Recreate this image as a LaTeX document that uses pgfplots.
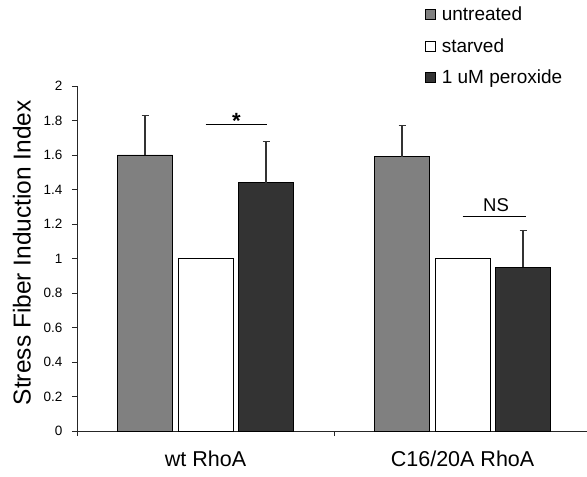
\documentclass[border=0pt]{standalone}
\usepackage{pgfplots}
\pgfplotsset{compat=1.18}
\usepackage{fontspec}
\setmainfont{Liberation Sans}
\definecolor{untr}{HTML}{808080}
\definecolor{perox}{HTML}{333333}
\begin{document}
\begin{tikzpicture}
\useasboundingbox (0,0) rectangle (587pt,477pt);
\begin{axis}[
  at={(77pt,46pt)}, anchor=south west,
  scale only axis, width=510pt, height=345pt,
  xmin=-0.5, xmax=1.484, ymin=0, ymax=2,
  clip=false,
  axis x line*=bottom, axis y line*=left,
  axis line style={-, black!85, line width=0.8pt},
  ybar=5.5pt, bar width=55pt,
  tick align=outside,
  major tick length=5pt,
  tick style={black!85, line width=0.8pt},
  ytick={0,0.2,0.4,0.6,0.8,1,1.2,1.4,1.6,1.8,2},
  yticklabels={0,0.2,0.4,0.6,0.8,1,1.2,1.4,1.6,1.8,2},
  yticklabel style={font=\fontsize{13.5}{13.5}\selectfont, xshift=-6pt},
  xtick={-0.5,0.5,1.5},
  xticklabels={},
  extra x ticks={0,1},
  extra x tick labels={wt RhoA, C16/20A RhoA},
  extra x tick style={major tick length=0pt, xticklabel style={font=\fontsize{21.5}{21.5}\selectfont, yshift=-16pt}},
  ylabel={Stress Fiber Induction Index},
  ylabel style={font=\fontsize{24.5}{24.5}\selectfont, at={(axis description cs:-0.108,0.517)}, anchor=center},
  legend image code/.code={\draw[#1, line width=0.8pt] (0pt,-5pt) rectangle (10pt,5pt); \path (14pt,0pt);},
  legend style={draw=none, fill=none, at={(0.682,1.235)}, anchor=north west,
    font=\fontsize{19}{19}\selectfont, inner sep=0pt, row sep=12pt},
  legend cell align=left,
]
\addplot[fill=untr, draw=black, line width=0.8pt,
  error bars/.cd, y dir=plus, y explicit,
  error bar style={line width=1.2pt, color=black!80},
  error mark options={line width=1.2pt, mark size=3.5pt, color=black!80, rotate=90}]
  coordinates {(0,1.60) +- (0,0.23) (1,1.59) +- (0,0.18)};
\addplot[fill=white, draw=black, line width=0.8pt]
  coordinates {(0,1.00) (1,1.00)};
\addplot[fill=perox, draw=black, line width=0.8pt,
  error bars/.cd, y dir=plus, y explicit,
  error bar style={line width=1.2pt, color=black!80},
  error mark options={line width=1.2pt, mark size=3.5pt, color=black!80, rotate=90}]
  coordinates {(0,1.44) +- (0,0.24) (1,0.95) +- (0,0.21)};
\legend{untreated, starved, 1 uM peroxide}
\draw[line width=0.8pt] (axis cs:0,1.778) -- (axis cs:0.24,1.778);
\node[font=\fontsize{22}{22}\selectfont\bfseries] at (axis cs:0.12,1.80) {*};
\draw[line width=0.8pt] (axis cs:1.0,1.245) -- (axis cs:1.245,1.245);
\node[font=\fontsize{18.5}{18.5}\selectfont] at (axis cs:1.13,1.31) {NS};
\end{axis}
\end{tikzpicture}
\end{document}
